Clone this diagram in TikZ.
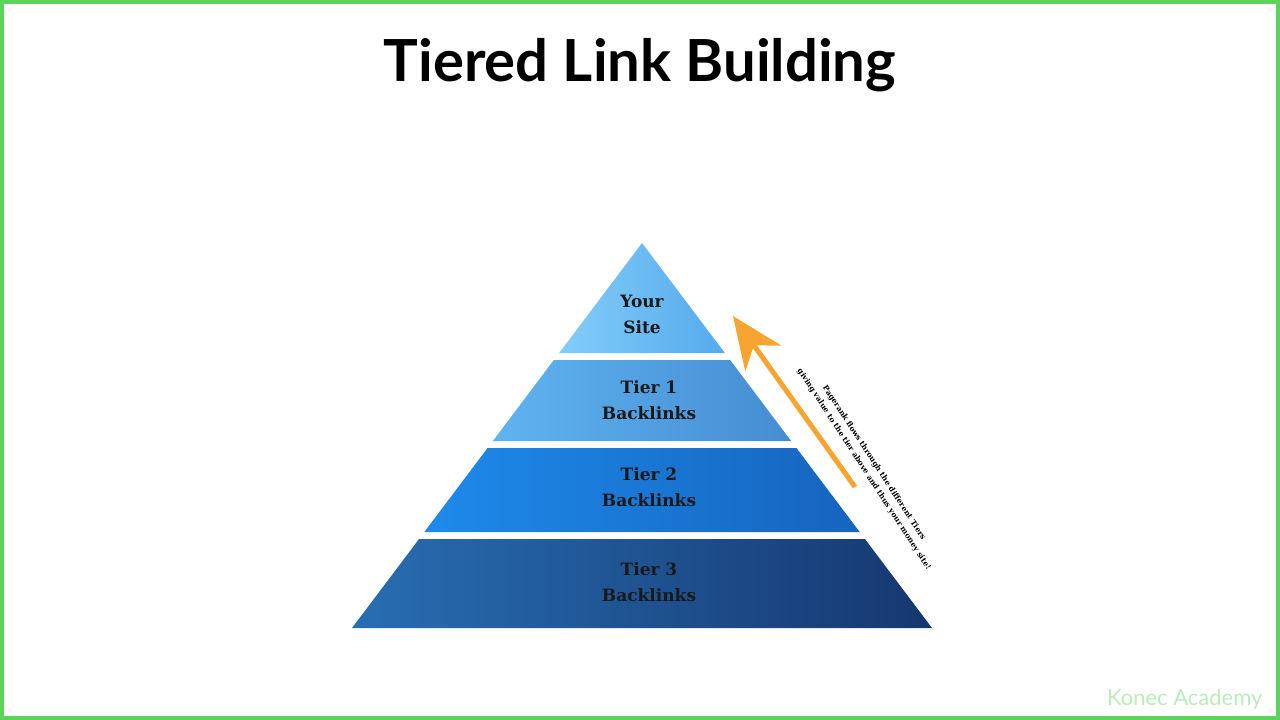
\documentclass[tikz,border=0pt]{standalone}
\usepackage{fontspec}
\setmainfont{DejaVu Serif}
\newfontfamily\titlefont{Lato}
\usetikzlibrary{arrows.meta}
\definecolor{bordergreen}{HTML}{5CD35A}
\definecolor{arrorange}{HTML}{F7A531}
\begin{document}
\begin{tikzpicture}[x=1pt,y=-1pt,
  tierlabel/.style={font=\bfseries\fontsize{17}{26}\selectfont, align=center, text=black!90},
  ]
\useasboundingbox (0,0) rectangle (1280,720);
\fill[white] (0,0) rectangle (1280,720);
\draw[bordergreen, line width=4] (2,2) rectangle (1278,718);
\node (title) at (640,65) {\titlefont\bfseries\fontsize{58}{66}\selectfont Tiered Link Building};
\def\hw#1{0.7532*(#1-243)}
\shade[left color={rgb,255:red,130;green,205;blue,250}, right color={rgb,255:red,85;green,170;blue,235}]
  (642,243) -- ({642+\hw{353}},353) -- ({642-\hw{353}},353) -- cycle;
\shade[left color={rgb,255:red,95;green,180;blue,240}, right color={rgb,255:red,70;green,140;blue,210}]
  ({642-\hw{360}},360) -- ({642+\hw{360}},360) -- ({642+\hw{441}},441) -- ({642-\hw{441}},441) -- cycle;
\shade[left color={rgb,255:red,30;green,138;blue,235}, right color={rgb,255:red,22;green,100;blue,190}]
  ({642-\hw{448}},448) -- ({642+\hw{448}},448) -- ({642+\hw{532}},532) -- ({642-\hw{532}},532) -- cycle;
\shade[left color={rgb,255:red,40;green,110;blue,178}, right color={rgb,255:red,22;green,55;blue,112}]
  ({642-\hw{539}},539) -- ({642+\hw{539}},539) -- ({642+\hw{628}},628) -- ({642-\hw{628}},628) -- cycle;
\node[tierlabel] (t0) at (642,314) {Your\\Site};
\node[tierlabel] (t1) at (649,400) {Tier 1\\Backlinks};
\node[tierlabel] (t2) at (649,487) {Tier 2\\Backlinks};
\node[tierlabel] (t3) at (649,582) {Tier 3\\Backlinks};
\coordinate (as) at (855,487);
\coordinate (ae) at (733,316);
\draw[arrorange, line width=5, -{Stealth[length=52pt,width=44pt,inset=16pt]}] (as) -- (ae);
\node[rotate=-57, font=\bfseries\fontsize{7.6}{12}\selectfont, align=center, inner sep=0] (note) at (869,466)
  {Pagerank flows through the different Tiers\\giving value to the tier above and thus your money site!};
\node[text={rgb,255:red,190;green,235;blue,190}, font=\titlefont\fontsize{22}{26}\selectfont, anchor=east] (wm) at (1266,699) {Konec Academy};
\end{tikzpicture}
\end{document}
